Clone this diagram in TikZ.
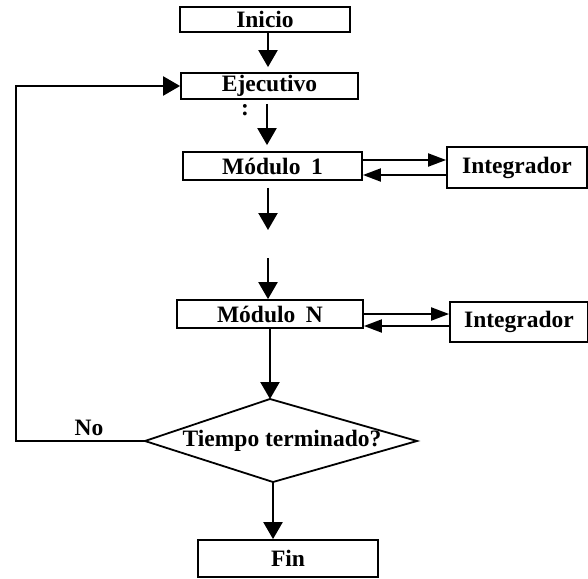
\documentclass[tikz,border=0pt]{standalone}
\usepackage{fontspec}
\setmainfont{Liberation Serif}
\usetikzlibrary{arrows.meta}

\begin{document}
\begin{tikzpicture}[x=1pt,y=-1pt,
  every node/.style={font=\fontsize{23.5}{28}\selectfont\bfseries},
  box/.style={draw,rectangle,line width=1.8pt,inner sep=0pt},
  outline/.style={line width=1.8pt,line join=miter},
  flow/.style={line width=2.3pt,-{Triangle[length=17pt,width=19pt]}},
  link/.style={line width=2pt,-{Triangle[length=18pt,width=13pt]}}]
\useasboundingbox (0,0) rectangle (588,578);

% process boxes
\node[box,minimum width=170pt,minimum height=25pt] (ini) at (265,19.5) {Inicio};
\node[box,minimum width=177pt,minimum height=26pt] (eje) at (269.5,86) {Ejecutivo};
\node[box,minimum width=179pt,minimum height=28pt] (mod1) at (272.5,166) {Módulo\hspace{0.45em}1};
\node[box,minimum width=140pt,minimum height=41pt] (int1) at (517,167.5) {Integrador};
\node[box,minimum width=186pt,minimum height=28pt] (modn) at (270,314) {Módulo\hspace{0.45em}N};
\node[box,minimum width=138pt,minimum height=40pt] (intn) at (519,322) {Integrador};
\node[box,minimum width=180pt,minimum height=37pt] (fin) at (288,558.5) {Fin};

% decision diamond, drawn through its four corners
\coordinate (dtop) at (270,399);
\coordinate (dright) at (417,441);
\coordinate (dbottom) at (273,482);
\coordinate (dleft) at (145,441);
\draw[outline] (dtop) -- (dright) -- (dbottom) -- (dleft) -- cycle;
\node (dia) at (282,441) {Tiempo terminado?};

% labels
\node (dots) at (245,110) {:};
\node (no) at (89,428) {No};

% free ends of the broken connector between the modules
\coordinate (gapa) at (268,230);
\coordinate (gapb) at (268,258);
\coordinate (corner) at (16,441);

% main flow
\draw[flow,shorten >=5pt] ([xshift=3pt]ini.south) -- ([xshift=3pt]ini.south |- eje.north);
\draw[flow,shorten <=4pt,shorten >=6pt] ([xshift=-2.5pt]eje.south) -- ([xshift=-2.5pt]eje.south |- mod1.north);
\draw[flow,shorten <=7pt] (mod1.south -| gapa) -- (gapa);
\draw[flow] (gapb) -- (gapb |- modn.north);
\draw[flow] (modn.south) -- (dtop);
\draw[flow] (dbottom) -- (dbottom |- fin.north);

% module <-> integrator exchanges
\draw[link] ([yshift=6pt]mod1.east) -- ([yshift=6pt]mod1.east -| int1.west);
\draw[link] ([yshift=-9pt]mod1.east -| int1.west) -- ([yshift=-9pt]mod1.east);
\draw[link] (modn.east) -- (modn.east -| intn.west);
\draw[link] ([yshift=-12pt]modn.east -| intn.west) -- ([yshift=-12pt]modn.east);

% loop back to the executive
\draw[flow] (dleft) -- (corner) |- (eje.west);
\end{tikzpicture}
\end{document}
